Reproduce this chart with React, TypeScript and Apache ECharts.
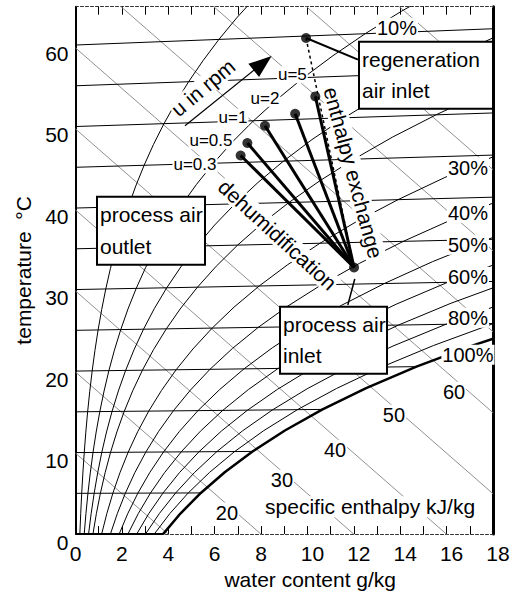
import React, { useEffect, useRef } from "react";
import * as echarts from "echarts";

const FONT = "'Liberation Sans', Arial, Helvetica, sans-serif";

// Saturation vapour pressure of water (kPa) against temperature (°C)
const satTemps = [0, 2.5, 5, 7.5, 10, 12.5, 15, 17.5, 20, 22.5, 25, 27.5, 30, 32.5, 35, 37.5, 40, 42.5, 45, 47.5, 50, 52.5, 55, 57.5, 60, 62.5, 65, 67.5, 70];
const satPressure = [0.6112, 0.7315, 0.8726, 1.0372, 1.2282, 1.4497, 1.7057, 2.001, 2.3392, 2.727, 3.1697, 3.672, 4.2467, 4.895, 5.6286, 6.454, 7.3851, 8.431, 9.5953, 10.893, 12.352, 13.975, 15.763, 17.758, 19.946, 22.366, 25.042, 27.97, 31.2];
const totalPressure = 101.325;

// Chart grid families
const rhLevels = [0.05, 0.1, 0.15, 0.2, 0.3, 0.4, 0.5, 0.6, 0.7, 0.8, 0.9, 1.0];
const isothermLevels = [0, 5, 10, 15, 20, 25, 30, 35, 40, 45, 50, 55, 60];
const enthalpyLevels = [10, 20, 30, 40, 50, 60, 70, 80, 90, 100, 110];

// Labels along the grid curves
const rhLabelTexts = ["10%", "30%", "40%", "50%", "60%", "80%", "100%"];
const enthalpyLabelTexts = ["20", "30", "40", "50", "60"];

// State points: water content g/kg, temperature scale °C
const processInlet = [12.01, 32.71];
const regenerationInlet = [9.94, 60.86];
const wheelSpeedLabels = ["u=0.3", "u=0.5", "u=1", "u=2", "u=5"];
const processOutlets = [
  [7.12, 46.45],
  [7.41, 47.98],
  [8.17, 50.1],
  [9.47, 51.57],
  [10.34, 53.69],
];

// Annotation anchors in data units
const rhLabelAt = [[13.86, 62.12], [16.92, 44.96], [16.92, 39.42], [16.92, 35.49], [16.92, 31.57], [16.92, 26.54], [16.92, 22.0]];
const enthalpyLabelAt = [[6.53, 2.64], [8.9, 6.66], [11.19, 10.34], [13.73, 14.64], [16.32, 17.46]];
const wheelLabelAt = [[5.15, 45.31], [5.84, 48.26], [6.79, 51.14], [8.17, 53.47], [9.35, 56.36]];
const speedArrow = [[4.72, 50.1], [8.07, 57.77]];
const regenLeader = [[9.94, 60.86], [12.18, 58.2]];
const inletLeader = [[12.04, 31.29], [11.74, 28.1]];

const humidityRatio = (phi: number, ps: number) => (622 * phi * ps) / (totalPressure - phi * ps);
const chartY = (t: number, x: number) => t * (1 + (1.86 * x) / 1006);

export default function App() {
  const ref = useRef<HTMLDivElement>(null);

  useEffect(() => {
    if (!ref.current) return;
    const chart = echarts.init(ref.current, undefined, { renderer: "svg" });

    const plain = (data: number[][], color: string, width: number, z = 2, type: any = "solid") => ({
      type: "line",
      data,
      symbol: "none",
      showSymbol: false,
      silent: true,
      clip: true,
      z,
      lineStyle: { color, width, type },
    });

    const enthalpySeries = enthalpyLevels.map((h) =>
      plain([[0, h / 1.006], [18, (h - 2.501 * 18) / 1.006]], "#909090", 1, 1)
    );

    const isothermSeries = isothermLevels.map((t) => {
      const ps = satPressure[satTemps.indexOf(t)];
      const xEnd = Math.min(humidityRatio(1, ps), 30);
      return plain([[0, chartY(t, 0)], [xEnd, chartY(t, xEnd)]], "#000", t === 0 ? 2 : 1, 2);
    });

    const rhSeries = rhLevels.map((phi) =>
      plain(
        satTemps.map((t, i) => {
          const x = humidityRatio(phi, satPressure[i]);
          return [x, chartY(t, x)];
        }),
        "#000",
        phi === 1 ? 2.5 : 1,
        2
      )
    );

    const processSeries = processOutlets.map((p) => plain([processInlet, p], "#000", 3, 6));

    const exchangeSeries = plain([regenerationInlet, processInlet], "#000", 1.5, 6, [3, 3]);

    const leaderSeries = [plain(regenLeader, "#000", 2, 6), plain(inletLeader, "#000", 1.5, 6)];

    const arrowSeries = {
      type: "line",
      data: [],
      silent: true,
      z: 6,
      markLine: {
        silent: true,
        symbol: ["none", "triangle"],
        symbolSize: [17, 23],
        label: { show: false },
        lineStyle: { color: "#000", width: 1.2, type: "solid" },
        itemStyle: { color: "#000" },
        data: [[{ coord: speedArrow[0] }, { coord: speedArrow[1] }]],
        animation: false,
      },
    };

    const pointSeries = {
      type: "scatter",
      data: [regenerationInlet, ...processOutlets, processInlet],
      symbolSize: 10,
      itemStyle: { color: "#000" },
      silent: true,
      z: 7,
    };

    const textBase = {
      show: true,
      position: "inside",
      color: "#000",
      opacity: 1,
      fontFamily: FONT,
      backgroundColor: "#fff",
      textBorderWidth: 0,
      textBorderColor: "#fff",
      textShadowBlur: 0,
    };

    const box = (anchor: number[], text: string, width: number, height: number, lineHeight: number, padding: number[]) => ({
      value: anchor,
      label: {
        ...textBase,
        formatter: text,
        align: "left",
        verticalAlign: "middle",
        fontSize: 21,
        width,
        height,
        lineHeight,
        padding,
        borderColor: "#000",
        borderWidth: 2,
      },
    });

    const tag = (anchor: number[], text: string, fontSize: number, rotate = 0) => ({
      value: anchor,
      label: { ...textBase, formatter: text, fontSize, rotate, padding: [0, 1] },
    });

    const labelItems = [
      ...rhLabelTexts.map((t, i) => tag(rhLabelAt[i], t, 20)),
      ...enthalpyLabelTexts.map((t, i) => tag(enthalpyLabelAt[i], t, 20)),
      ...wheelSpeedLabels.map((t, i) => tag(wheelLabelAt[i], t, 17)),
      tag([12.7, 3.35], "specific enthalpy kJ/kg", 21),
      tag([5.5, 54.77], "u in rpm", 21, 40),
      tag([8.71, 36.72], "dehumidification", 21, -42.5),
      tag([11.98, 44.34], "enthalpy exchange", 21, -75),
      box([12.266, 56.29], "regeneration\nair inlet", 128, 62, 31, [1, 2, 2, 2]),
      box([0.97, 37.21], "process air\noutlet", 102, 64, 32, [1, 2, 1, 2]),
      box([8.86, 23.78], "process air\ninlet", 101, 62, 31, [1, 2, 2, 2]),
    ];

    const labelSeries = {
      type: "scatter",
      data: labelItems,
      symbolSize: 0,
      silent: true,
      z: 5,
      itemStyle: { color: "#fff", opacity: 1 },
      emphasis: { disabled: true },
    };

    chart.setOption({
      animation: false,
      backgroundColor: "#fff",
      grid: { left: 75.5, top: 6.7, right: 21, bottom: 60.7, containLabel: false },
      xAxis: [
        {
          type: "value",
          position: "bottom",
          min: 0,
          max: 18,
          interval: 2,
          name: "water content g/kg",
          nameLocation: "middle",
          nameGap: 30,
          nameTextStyle: { fontSize: 21, color: "#000", fontFamily: FONT, padding: [0, 0, 0, 52] },
          axisLine: { show: true, onZero: false, lineStyle: { color: "#333", width: 1, type: [3, 2] } },
          axisTick: { show: true, inside: true, length: 8, lineStyle: { color: "#000" } },
          minorTick: { show: true, splitNumber: 2, length: 8, lineStyle: { color: "#000" } },
          axisLabel: {
            fontSize: 21,
            color: "#000",
            fontFamily: FONT,
            margin: 9,
            formatter: (v: number) => (v >= 10 ? `{w|${v}}` : `${v}`),
            rich: { w: { fontSize: 21, fontFamily: FONT, color: "#000", padding: [0, 0, 0, 10] } },
          },
          splitLine: { show: false },
        },
        {
          type: "value",
          position: "top",
          min: 0,
          max: 18,
          interval: 2,
          axisLine: { show: true, onZero: false, lineStyle: { color: "#333", width: 1, type: [3, 2] } },
          axisTick: { show: true, inside: true, length: 8, lineStyle: { color: "#000" } },
          minorTick: { show: true, splitNumber: 2, length: 8, lineStyle: { color: "#000" } },
          axisLabel: { show: false },
          splitLine: { show: false },
        },
      ],
      yAxis: [
        {
          type: "value",
          position: "left",
          min: 0,
          max: 64.7,
          interval: 10,
          name: "temperature  °C",
          nameLocation: "middle",
          nameGap: 38,
          nameTextStyle: { fontSize: 21, color: "#000", fontFamily: FONT },
          axisLine: { show: true, onZero: false, lineStyle: { color: "#000", width: 2 } },
          axisTick: { show: false },
          axisLabel: {
            fontSize: 21,
            color: "#000",
            fontFamily: FONT,
            margin: 7,
            showMaxLabel: false,
            formatter: (v: number) => `{d|${v}}`,
            rich: { d: { fontSize: 21, fontFamily: FONT, color: "#000", padding: [16, 0, 0, 0] } },
          },
          splitLine: { show: false },
        },
        {
          type: "value",
          position: "right",
          min: 0,
          max: 64.7,
          interval: 10,
          axisLine: { show: true, onZero: false, lineStyle: { color: "#000", width: 3 } },
          axisTick: { show: false },
          axisLabel: { show: false },
          splitLine: { show: false },
        },
      ],
      series: [
        ...enthalpySeries,
        ...isothermSeries,
        ...rhSeries,
        ...processSeries,
        exchangeSeries,
        ...leaderSeries,
        arrowSeries,
        pointSeries,
        labelSeries,
      ],
    });

    return () => chart.dispose();
  }, []);

  return (
    <div
      ref={ref}
      style={{ position: "absolute", left: 0, top: 0, width: 514, height: 595, background: "#fff" }}
    />
  );
}
